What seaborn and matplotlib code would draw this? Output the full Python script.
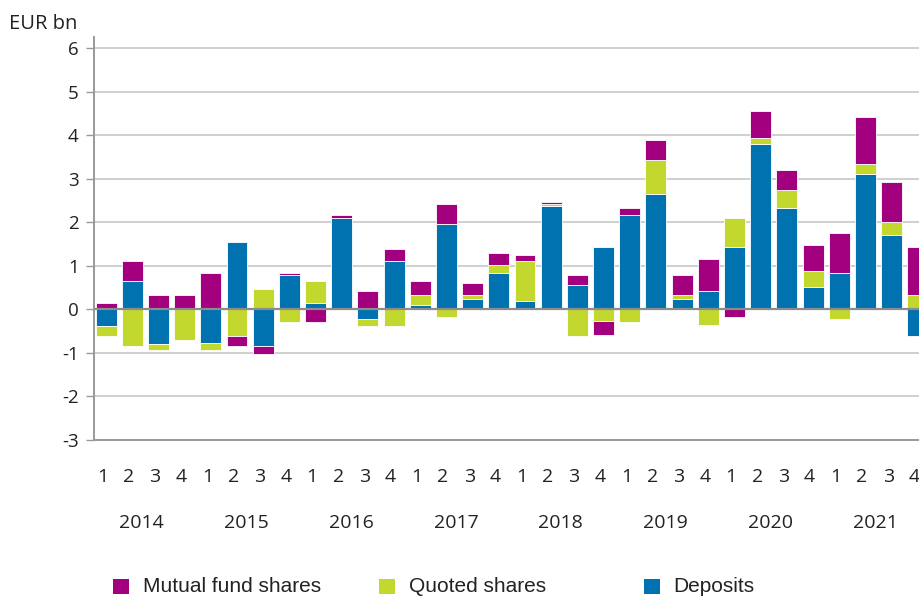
import numpy as np
import pandas as pd
import matplotlib
matplotlib.use("Agg")
import matplotlib.pyplot as plt
import matplotlib.transforms as mtransforms
from matplotlib.patches import Rectangle
import seaborn as sns

# Quarterly values, EUR bn
years = ["2014", "2015", "2016", "2017", "2018", "2019", "2020", "2021"]
quarters = ["1", "2", "3", "4"]
deposits = [-0.39, 0.65, -0.80, 0.00, -0.77, 1.56, -0.85, 0.80,
            0.15, 2.11, -0.21, 1.11, 0.10, 1.97, 0.24, 0.84,
            0.20, 2.38, 0.56, 1.43, 2.16, 2.66, 0.24, 0.42,
            1.43, 3.80, 2.34, 0.52, 0.84, 3.11, 1.70, -0.62]
quoted = [-0.22, -0.85, -0.14, -0.71, -0.17, -0.62, 0.47, -0.30,
          0.50, 0.00, -0.18, -0.39, 0.23, -0.17, 0.09, 0.18,
          0.91, 0.05, -0.62, -0.26, -0.30, 0.77, 0.09, -0.35,
          0.68, 0.13, 0.41, 0.36, -0.21, 0.23, 0.32, 0.33]
mutual = [0.15, 0.46, 0.33, 0.33, 0.84, -0.23, -0.18, 0.04,
          -0.30, 0.05, 0.42, 0.27, 0.32, 0.46, 0.28, 0.27,
          0.14, 0.05, 0.23, -0.32, 0.18, 0.46, 0.46, 0.73,
          -0.17, 0.64, 0.46, 0.59, 0.91, 1.09, 0.91, 1.10]

series = [("Deposits", deposits, "#0072b0"),
          ("Quoted shares", quoted, "#c2d82f"),
          ("Mutual fund shares", mutual, "#a3007f")]
legend_order = ["Mutual fund shares", "Quoted shares", "Deposits"]

periods = [f"{y}Q{q}" for y in years for q in quarters]

sns.set_theme(style="white")
plt.rcParams["font.family"] = ["Open Sans", "DejaVu Sans"]

fig = plt.figure(figsize=(9.2, 5.99), dpi=100)
W, H = 920, 599
ax = fig.add_axes([94 / W, (H - 440) / H, 850 / W, 403 / H])

# diverging stack: positives and negatives stacked separately
pos_base = np.zeros(len(periods))
neg_base = np.zeros(len(periods))
for name, vals, col in series:
    v = np.array(vals)
    bottom = np.where(v >= 0, pos_base, neg_base)
    df = pd.DataFrame({"period": periods, "value": v})
    sns.barplot(data=df, x="period", y="value", order=periods, color=col,
                bottom=bottom, width=0.8, errorbar=None, saturation=1,
                edgecolor="white", linewidth=0.6, ax=ax, zorder=3)
    pos_base = pos_base + np.where(v >= 0, v, 0)
    neg_base = neg_base + np.where(v < 0, v, 0)

ax.set_xlim(-0.46, 32.0)
ax.set_ylim(-3, 6.26)
ax.set_yticks(range(-3, 7))
ax.set_yticklabels([str(t) for t in range(-3, 7)], fontsize=13.5, color="#222222")
ax.yaxis.grid(True, color="#cfcfcf", linewidth=1.4, zorder=0)
ax.xaxis.grid(False)
ax.axhline(0, color="#8c8c8c", linewidth=1.6, zorder=4)
ax.tick_params(axis="y", length=6, width=1.0, color="#999999", pad=5, left=True)
ax.set_xticks([])
ax.set_xlabel("")
ax.set_ylabel("")
for s in ["top", "right"]:
    ax.spines[s].set_visible(False)
for s in ["left", "bottom"]:
    ax.spines[s].set_color("#999999")
    ax.spines[s].set_linewidth(1.4)

# category labels sit slightly left of the bar centres, as in the original
shift = mtransforms.ScaledTranslation(-3.5 / 100, 0, fig.dpi_scale_trans)
tr = ax.get_xaxis_transform() + shift
for i, p in enumerate(periods):
    ax.text(i, -0.092, p[-1], transform=tr, ha="center", va="center",
            fontsize=14, color="#222222")
for k, y in enumerate(years):
    ax.text(4 * k + 1.5, -0.206, y, transform=tr, ha="center", va="center",
            fontsize=14, color="#222222")

fig.text(9 / W, 1 - 29 / H, "EUR bn", fontsize=14.5, color="#222222",
         ha="left", va="baseline")

# legend row
colors = {name: col for name, _, col in series}
sq_x = [113, 379, 644]
txt_x = [143, 409, 673]
for name, sx, tx in zip(legend_order, sq_x, txt_x):
    fig.patches.append(Rectangle((sx / W, 1 - 594 / H), 16 / W, 15 / H,
                                 transform=fig.transFigure,
                                 facecolor=colors[name], edgecolor="none"))
    fig.text(tx / W, 1 - 586 / H, name, fontsize=15, color="#222222",
             ha="left", va="center", family=["Liberation Sans", "DejaVu Sans"])

fig.savefig("out.png", dpi=100)
